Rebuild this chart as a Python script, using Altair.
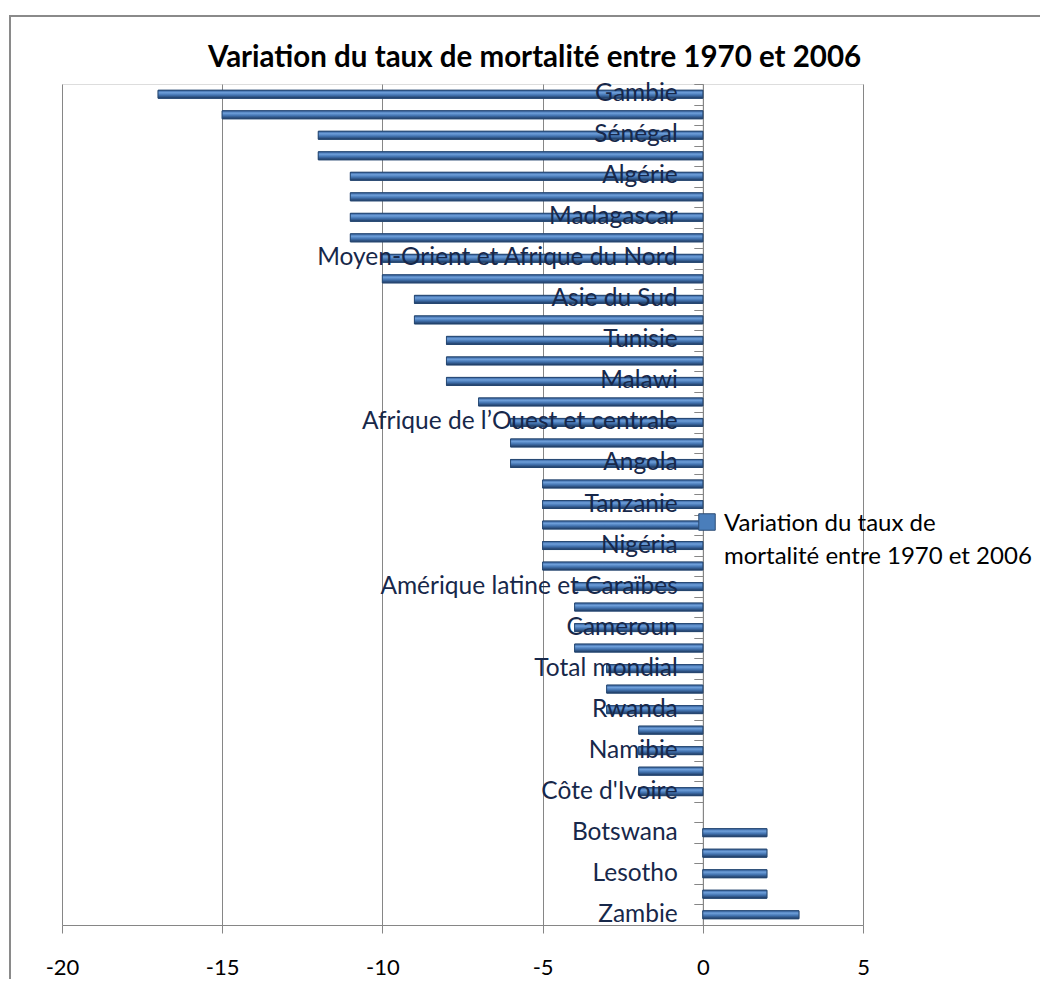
import altair as alt
import pandas as pd

labels = [
    "Gambie", "", "Sénégal", "", "Algérie", "", "Madagascar", "",
    "Moyen-Orient et Afrique du Nord", "", "Asie du Sud", "", "Tunisie", "",
    "Malawi", "", "Afrique de l\u2019Ouest et centrale", "", "Angola", "",
    "Tanzanie", "", "Nigéria", "", "Amérique latine et Caraïbes", "",
    "Cameroun", "", "Total mondial", "", "Rwanda", "", "Namibie", "",
    "Côte d'Ivoire", "", "Botswana", "", "Lesotho", "", "Zambie",
]
values = [
    -17, -15, -12, -12, -11, -11, -11, -11,
    -10, -10, -9, -9, -8, -8,
    -8, -7, -6, -6, -6, -5,
    -5, -5, -5, -5, -4, -4,
    -4, -4, -3, -3, -3, -2, -2, -2,
    -2, 0, 2, 2, 2, 2, 3,
]
x_ticks = [-20, -15, -10, -5, 0, 5]
series_name = "Variation du taux de mortalité entre 1970 et 2006"

df = pd.DataFrame({
    "i": list(range(len(values))),
    "pays": labels,
    "valeur": values,
    "serie": [series_name] * len(values),
})

W, H = 801, 841
FONT = "Lato"
GRID = "#868686"

y_enc = alt.Y(
    "i:O",
    scale=alt.Scale(paddingInner=0, paddingOuter=0),
    axis=alt.Axis(
        title=None, labels=False, ticks=True, tickBand="extent", tickSize=9,
        tickColor=GRID, domainColor=GRID, offset=-W * 0.8, grid=False,
    ),
)
x_scale = alt.Scale(domain=[-20, 5], nice=False, zero=False)
x_axis = alt.Axis(
    title=None, values=x_ticks, grid=True, gridColor=GRID, gridOpacity=1,
    domainColor=GRID, tickColor=GRID, tickSize=8, labelFont=FONT,
    labelFontSize=22, labelColor="#000000", labelPadding=34,
    labelFlush=False, labelExpr="datum.value + ''",
)

base = alt.Chart(df)

text_layer = base.mark_text(
    align="right", baseline="middle", dx=-25, dy=0, font=FONT, fontSize=24.5,
    color="#17284a",
).encode(y=y_enc, x=alt.datum(0, scale=x_scale), text="pays:N")

bars_base = base.transform_filter("datum.valeur != 0").mark_bar(
    size=8, stroke="#2C4D75", strokeWidth=1
).encode(
    y=y_enc,
    x=alt.X("valeur:Q", scale=x_scale, axis=x_axis),
    fill=alt.Fill(
        "serie:N",
        scale=alt.Scale(range=["#4A7EBB"]),
        legend=alt.Legend(
            title=None, orient="none", legendX=633, legendY=426,
            symbolType="square", symbolSize=272, symbolStrokeColor="#2C4D75",
            symbolStrokeWidth=1, labelFont=FONT, labelFontSize=24,
            labelColor="#000000", labelLimit=400, labelOffset=5,
            labelExpr="['Variation du taux de', 'mortalité entre 1970 et 2006']",
            labelBaseline="top", padding=0,
        ),
    ),
)

grad = alt.Gradient(
    gradient="linear", x1=0, y1=0, x2=0, y2=1,
    stops=[
        alt.GradientStop(offset=0, color="#34609C"),
        alt.GradientStop(offset=0.3, color="#6E9FDA"),
        alt.GradientStop(offset=0.6, color="#4475B2"),
        alt.GradientStop(offset=1, color="#1E3A62"),
    ],
)
bars_grad = base.transform_filter("datum.valeur != 0").mark_bar(
    size=8, color=grad, stroke="#264670", strokeWidth=0.8
).encode(
    y=y_enc, x=alt.X("valeur:Q", scale=x_scale),
)

frame = alt.Chart(pd.DataFrame({"a": [0]})).mark_rect(
    fill=None, stroke="#8a8a8a", strokeWidth=2
).encode(
    x=alt.value(-52), y=alt.value(-68), x2=alt.value(1100), y2=alt.value(1100)
)

chart = alt.layer(bars_base, bars_grad, text_layer, frame).properties(
    width=W, height=H,
    title=alt.Title(
        series_name, font=FONT, fontSize=29.5, fontWeight="bold", color="#000000",
        anchor="middle", dx=72, offset=-81, baseline="alphabetic",
    ),
    autosize=alt.AutoSizeParams(type="none"),
    padding={"left": 54, "top": 76, "right": 177, "bottom": 54},
).configure_view(stroke=None).configure(
    background="white",
    style={"guide-label": {"lineHeight": 33, "dy": -10}},
)

chart.save("out.html", embed_options={"renderer": "svg", "actions": False})
